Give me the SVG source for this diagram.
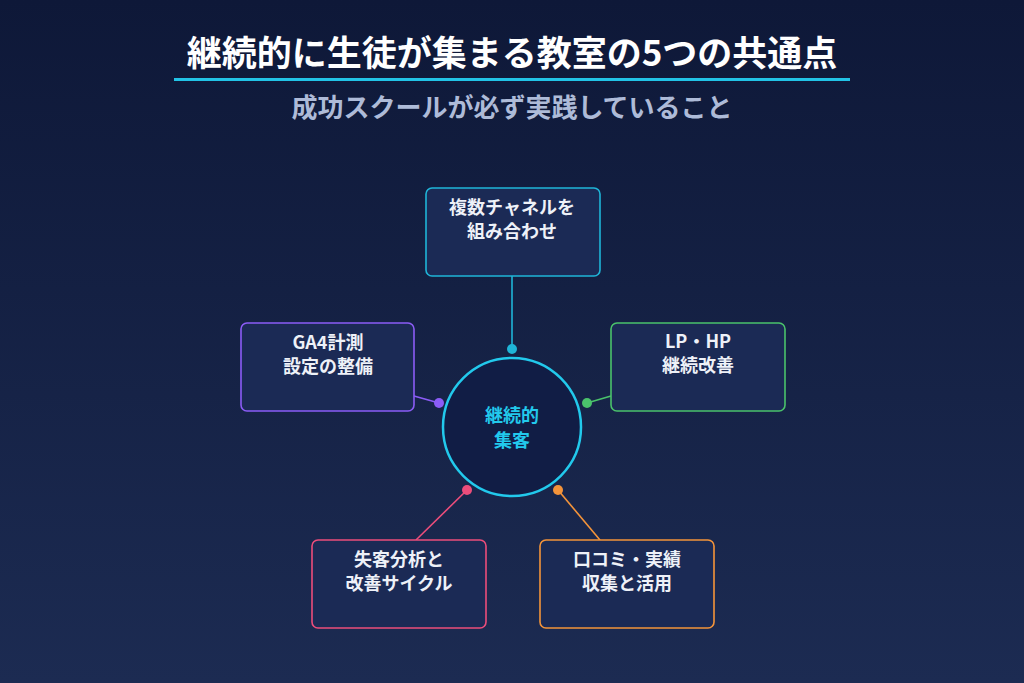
<svg xmlns="http://www.w3.org/2000/svg" width="1024" height="683" viewBox="0 0 1024 683">
<defs>
<linearGradient id="bg" x1="0" y1="0" x2="0" y2="1"><stop offset="0" stop-color="#0e1838"/><stop offset="1" stop-color="#1c2b52"/></linearGradient>
<style>
text{font-family:"Noto Sans CJK JP","Noto Sans",sans-serif;font-weight:700;text-anchor:middle}
.box{fill:#1b2a55;stroke-width:1.6}
.lbl{fill:#eef1f8;font-size:18px}
.ln{stroke-width:1.6;fill:none}
</style>
</defs>
<rect width="1024" height="683" fill="url(#bg)"/>
<text x="512" y="66" font-size="35" fill="#ffffff">継続的に生徒が集まる教室の5つの共通点</text>
<rect x="174" y="78" width="676" height="3" fill="#22c3e6"/>
<text x="512" y="117" font-size="26" fill="#aebbd8" font-weight="500">成功スクールが必ず実践していること</text>
<g id="connectors">
<line class="ln" x1="512" y1="276" x2="512" y2="349" stroke="#1fb5d8"/>
<line class="ln" x1="414" y1="396" x2="439" y2="403" stroke="#8b5cf6"/>
<line class="ln" x1="611" y1="396" x2="587" y2="403" stroke="#4ac26b"/>
<line class="ln" x1="416" y1="540" x2="467" y2="490" stroke="#ec4d7b"/>
<line class="ln" x1="600" y1="540" x2="558" y2="490" stroke="#f4943a"/>
<circle cx="512" cy="349" r="5" fill="#1fb5d8"/>
<circle cx="439" cy="403" r="5" fill="#8b5cf6"/>
<circle cx="587" cy="403" r="5" fill="#4ac26b"/>
<circle cx="467" cy="490" r="5" fill="#ec4d7b"/>
<circle cx="558" cy="490" r="5" fill="#f4943a"/>
</g>
<g id="center"><circle cx="512" cy="427" r="69" fill="#111d45" stroke="#22c9ec" stroke-width="2.5"/>
<text x="512" y="422" font-size="18" fill="#22c9ec">継続的</text><text x="512" y="447" font-size="18" fill="#22c9ec">集客</text></g>
<g id="n1"><rect class="box" x="426" y="188" width="174" height="88" rx="6" stroke="#1fb5d8"/>
<text class="lbl" x="512" y="214">複数チャネルを</text><text class="lbl" x="512" y="238">組み合わせ</text></g>
<g id="n2"><rect class="box" x="241" y="323" width="173" height="88" rx="6" stroke="#8b5cf6"/>
<text class="lbl" x="328" y="349">GA4計測</text><text class="lbl" x="328" y="373">設定の整備</text></g>
<g id="n3"><rect class="box" x="611" y="323" width="174" height="88" rx="6" stroke="#4ac26b"/>
<text class="lbl" x="698" y="348">LP・HP</text><text class="lbl" x="698" y="372">継続改善</text></g>
<g id="n4"><rect class="box" x="312" y="540" width="174" height="88" rx="6" stroke="#ec4d7b"/>
<text class="lbl" x="399" y="566">失客分析と</text><text class="lbl" x="399" y="590">改善サイクル</text></g>
<g id="n5"><rect class="box" x="540" y="540" width="174" height="88" rx="6" stroke="#f4943a"/>
<text class="lbl" x="627" y="566">口コミ・実績</text><text class="lbl" x="627" y="590">収集と活用</text></g>
</svg>
